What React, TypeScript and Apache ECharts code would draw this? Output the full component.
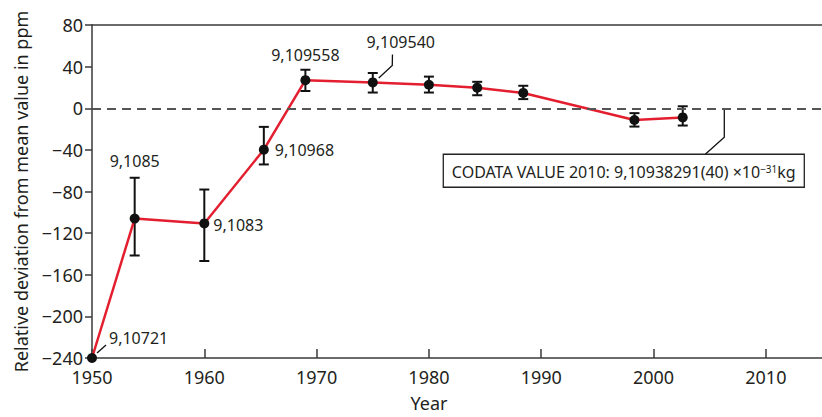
import React, { useEffect, useRef } from "react";
import * as echarts from "echarts";

// ---- data ----
const years = [1950, 1953.8, 1960, 1965.3, 1969, 1975, 1980, 1984.3, 1988.4, 1998.3, 2002.6];
const values = [-240, -106, -110.7, -39.8, 27, 24.8, 22.6, 19.8, 14.7, -11.3, -8.8];
const errLow = [null, -141.5, -146.8, -54, 16.6, 15.1, 15.1, 12.5, 8.8, -17.6, -16.6];
const errHigh = [null, -66.8, -78.1, -17.9, 37, 33.9, 30.4, 25.4, 21.6, -4.7, 1.9];
const pointLabels = ["9,10721", "9,1085", "9,1083", "9,10968", "9,109558", "9,109540"];
const codataYear = 2006.3;
const codataValue = 0;
const codataMain = "CODATA VALUE 2010: 9,10938291(40) ×10";
const codataExp = "−31";
const codataUnit = "kg";
const xMin = 1950, xMax = 2015, xStep = 10;
const yMin = -240, yMax = 80, yStep = 40;
const xTitle = "Year";
const yTitle = "Relative deviation from mean value in ppm";

// ---- layout of annotations (pixel offsets from their point) ----
const labelLayout: any[] = [
  { dx: 17, dy: -20, align: "left", leader: [[5, -5], [14, -13]] },
  { dx: 0, dy: -58, align: "center" },
  { dx: 9, dy: 2, align: "left" },
  { dx: 11, dy: 0, align: "left" },
  { dx: 0, dy: -25, align: "center" },
  { dx: 28, dy: -40, align: "center", leader: [[6, -4.4], [19.5, -17], [19.7, -28]] },
];

const FONT = "'Noto Sans', sans-serif";
const TXT = "#231f20";
const AX = "#3a3a3a";

export default function App() {
  const ref = useRef<HTMLDivElement>(null);
  useEffect(() => {
    if (!ref.current) return;
    const chart = echarts.init(ref.current, undefined, { renderer: "svg" });

    const lineData = years.map((y, i) => [y, values[i]]);
    const errData = years
      .map((y, i) => [y, errLow[i], errHigh[i]])
      .filter((d) => d[1] !== null);
    const annData = pointLabels.map((_, i) => [years[i], values[i], i]);

    const option: any = {
      animation: false,
      textStyle: { fontFamily: FONT },
      grid: { left: 92, right: 0, top: 25, bottom: 52 },
      xAxis: [
        {
          type: "value",
          min: xMin,
          max: xMax,
          interval: xStep,
          axisLine: { show: true, onZero: false, lineStyle: { color: AX, width: 1.5 } },
          axisTick: { show: true, inside: true, length: 9, lineStyle: { color: AX, width: 1.5 } },
          axisLabel: {
            fontSize: 18,
            color: TXT,
            margin: 10,
            fontFamily: FONT,
            showMaxLabel: false,
            formatter: (v: number) => (v % xStep === 0 ? String(v) : ""),
          },
          splitLine: { show: false },
          name: xTitle,
          nameLocation: "middle",
          nameGap: 36,
          nameTextStyle: { fontSize: 18, color: TXT, fontFamily: FONT, padding: [0, 56, 0, 0] },
        },
        {
          type: "value",
          position: "top",
          min: xMin,
          max: xMax,
          axisLine: { show: true, onZero: false, lineStyle: { color: AX, width: 1.5 } },
          axisTick: { show: false },
          axisLabel: { show: false },
          splitLine: { show: false },
        },
      ],
      yAxis: {
        type: "value",
        min: yMin,
        max: yMax,
        interval: yStep,
        axisLine: { show: true, onZero: false, lineStyle: { color: AX, width: 1.5 } },
        axisTick: { show: true, length: 7, lineStyle: { color: AX, width: 1.5 } },
        axisLabel: {
          fontSize: 18,
          color: TXT,
          margin: 9,
          fontFamily: FONT,
          formatter: (v: number) => (v < 0 ? "−" + Math.abs(v) : String(v)),
        },
        splitLine: { show: false },
        name: yTitle,
        nameLocation: "middle",
        nameGap: 62,
        nameTextStyle: { fontSize: 18, color: TXT, fontFamily: FONT },
      },
      series: [
        {
          type: "custom",
          name: "errors",
          z: 2,
          clip: false,
          data: errData,
          renderItem: (params: any, api: any) => {
            const x = api.value(0);
            const pLo = api.coord([x, api.value(1)]);
            const pHi = api.coord([x, api.value(2)]);
            const hw = 5;
            const st = { stroke: "#111", lineWidth: 2 };
            return {
              type: "group",
              children: [
                { type: "line", shape: { x1: pLo[0], y1: pLo[1], x2: pHi[0], y2: pHi[1] }, style: st },
                { type: "line", shape: { x1: pLo[0] - hw, y1: pLo[1], x2: pLo[0] + hw, y2: pLo[1] }, style: st },
                { type: "line", shape: { x1: pHi[0] - hw, y1: pHi[1], x2: pHi[0] + hw, y2: pHi[1] }, style: st },
              ],
            };
          },
        },
        {
          type: "line",
          name: "mass",
          z: 3,
          clip: false,
          data: lineData,
          symbol: "circle",
          symbolSize: 10,
          itemStyle: { color: "#111" },
          lineStyle: { color: "#e31e2f", width: 2.5 },
          markLine: {
            silent: true,
            symbol: "none",
            label: { show: false },
            lineStyle: { color: "#555", type: [9, 6], width: 1.8 },
            data: [{ yAxis: codataValue }],
          },
        },
        {
          type: "custom",
          name: "labels",
          z: 4,
          clip: false,
          data: annData,
          renderItem: (params: any, api: any) => {
            const p = api.coord([api.value(0), api.value(1)]);
            const i = api.value(2);
            const L = labelLayout[i];
            const children: any[] = [
              {
                type: "text",
                x: p[0] + L.dx,
                y: p[1] + L.dy,
                style: {
                  text: pointLabels[i],
                  fontSize: 16,
                  fontFamily: FONT,
                  fill: TXT,
                  align: L.align,
                  verticalAlign: "middle",
                },
              },
            ];
            if (L.leader) {
              children.push({
                type: "polyline",
                shape: { points: L.leader.map((q: number[]) => [p[0] + q[0], p[1] + q[1]]) },
                style: { stroke: "#111", lineWidth: 1.3, fill: null },
              });
            }
            return { type: "group", children };
          },
        },
        {
          type: "custom",
          name: "codata",
          z: 4,
          clip: false,
          data: [[codataYear, codataValue]],
          renderItem: (params: any, api: any) => {
            const p = api.coord([api.value(0), api.value(1)]);
            const bx = p[0] - 281, by = p[1] + 46, bw = 361, bh = 33;
            return {
              type: "group",
              children: [
                {
                  type: "polyline",
                  shape: { points: [[p[0], p[1]], [p[0], p[1] + 29], [p[0] - 19, p[1] + 46]] },
                  style: { stroke: "#111", lineWidth: 1.3, fill: null },
                },
                {
                  type: "rect",
                  shape: { x: bx, y: by, width: bw, height: bh },
                  style: { stroke: "#222", lineWidth: 1.3, fill: "#fff" },
                },
                {
                  type: "text",
                  x: bx + bw / 2,
                  y: by + bh / 2 + 1,
                  style: {
                    text: `{a|${codataMain}}{s|${codataExp}}{a|${codataUnit}}`,
                    align: "center",
                    verticalAlign: "middle",
                    rich: {
                      a: { fontSize: 16, fontFamily: FONT, fill: TXT },
                      s: { fontSize: 10, fontFamily: FONT, fill: TXT, verticalAlign: "top" },
                    },
                  },
                },
              ],
            };
          },
        },
      ],
    };
    chart.setOption(option);
    return () => chart.dispose();
  }, []);
  return (
    <div
      ref={ref}
      style={{ position: "absolute", left: 0, top: 0, width: 822, height: 417 }}
    />
  );
}
